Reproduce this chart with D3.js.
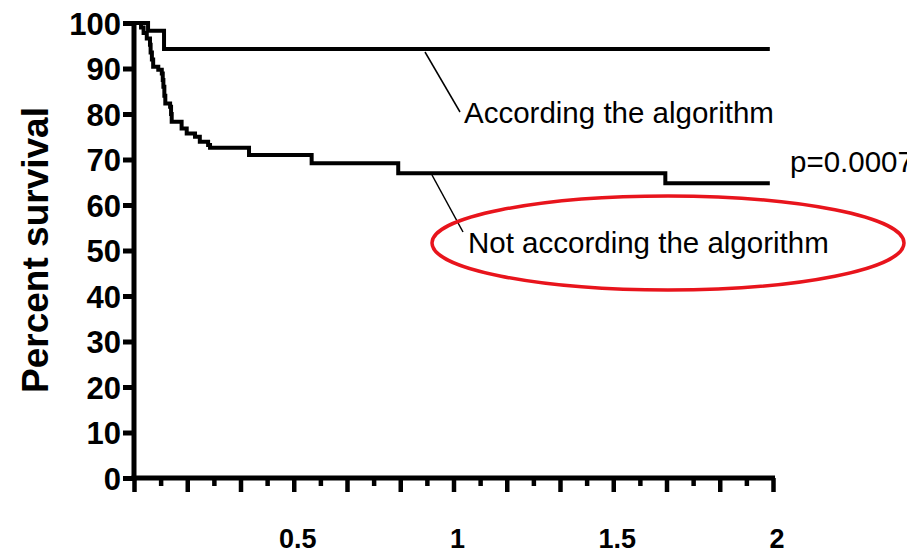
<!DOCTYPE html>
<html lang="en">
<head>
    <meta charset="UTF-8">
    <title>Percent survival</title>
    <style>
        body {
            margin: 0;
            padding: 0;
            background: #fff;
        }

        .tick-label {
            font-family: "Liberation Sans", Arial, sans-serif;
            font-weight: bold;
            fill: #000;
        }

        .note {
            font-family: "Liberation Sans", Arial, sans-serif;
            font-size: 29.5px;
            fill: #000;
        }
    </style>
</head>
<body>
    <script src="https://d3js.org/d3.v7.min.js"></script>
    <script>
        // survival curves (time in years, percent)
        const accordingTimes = [0, 0.044, 0.094, 1.99];
        const accordingValues = [100, 98.3, 94.3, 94.3];

        const notAccordingTimes = [0, 0.022, 0.030, 0.040, 0.050, 0.052, 0.056, 0.060, 0.076, 0.087, 0.090, 0.092,
            0.095, 0.098, 0.113, 0.116, 0.118, 0.149, 0.165, 0.191, 0.206, 0.232, 0.238, 0.360, 0.556, 0.827, 1.663, 1.99];
        const notAccordingValues = [100, 99.0, 97.8, 96.6, 95.2, 93.5, 92.0, 90.4, 89.7, 88.9, 87.5, 86.0,
            84.0, 82.3, 81.6, 80.0, 78.3, 76.8, 75.7, 75.0, 73.9, 73.2, 72.6, 71.0, 69.2, 67.0, 64.8, 64.8];

        const yTicks = [0, 10, 20, 30, 40, 50, 60, 70, 80, 90, 100];
        const xLabelTicks = [0.5, 1, 1.5, 2];

        const width = 907;
        const height = 553;

        const x = d3.scaleLinear().domain([0, 2]).range([134, 773]);
        const y = d3.scaleLinear().domain([0, 100]).range([478, 23]);

        const svg = d3.select("body").append("svg")
            .attr("width", width)
            .attr("height", height);

        // curves
        const line = d3.line()
            .x(d => x(d[0]))
            .y(d => y(d[1]))
            .curve(d3.curveStepAfter);

        const according = accordingTimes.map((t, i) => [t, accordingValues[i]]);
        const notAccording = notAccordingTimes.map((t, i) => [t, notAccordingValues[i]]);

        [according, notAccording].forEach(data => {
            svg.append("path")
                .datum(data)
                .attr("fill", "none")
                .attr("stroke", "#000")
                .attr("stroke-width", 4)
                .attr("d", line);
        });

        // y axis
        const yAxis = svg.append("g")
            .attr("transform", "translate(" + x(0) + ",0)")
            .call(d3.axisLeft(y).tickValues(yTicks).tickSize(11).tickPadding(2).tickFormat(d3.format("d")));
        yAxis.select(".domain").remove();
        yAxis.selectAll(".tick line").attr("stroke-width", 5).attr("stroke", "#000");
        yAxis.selectAll(".tick text")
            .attr("class", "tick-label")
            .style("font-size", "31px")
            .attr("dy", "0.36em");
        yAxis.append("line")
            .attr("x1", 0).attr("x2", 0)
            .attr("y1", y(100) - 2).attr("y2", y(0) + 2.5)
            .attr("stroke", "#000")
            .attr("stroke-width", 5);

        // x axis: major ticks every 1/6, minor in between
        const majorTicks = d3.range(0, 13).map(i => i / 6);
        const minorTicks = d3.range(0, 12).map(i => i / 6 + 1 / 12);

        const xAxis = svg.append("g")
            .attr("transform", "translate(0," + y(0) + ")")
            .call(d3.axisBottom(x).tickValues(majorTicks).tickSize(14).tickFormat(""));
        xAxis.select(".domain").remove();
        xAxis.selectAll(".tick line").attr("stroke-width", 4.5).attr("stroke", "#000");

        const xMinor = svg.append("g")
            .attr("transform", "translate(0," + y(0) + ")")
            .call(d3.axisBottom(x).tickValues(minorTicks).tickSize(8).tickFormat(""));
        xMinor.select(".domain").remove();
        xMinor.selectAll(".tick line").attr("stroke-width", 4.5).attr("stroke", "#000");

        svg.append("line")
            .attr("x1", x(0) - 2.5).attr("x2", x(2) + 2)
            .attr("y1", y(0)).attr("y2", y(0))
            .attr("stroke", "#000")
            .attr("stroke-width", 5);

        svg.selectAll(".x-label")
            .data(xLabelTicks)
            .enter().append("text")
            .attr("class", "tick-label")
            .attr("x", d => x(d) + 4)
            .attr("y", 548)
            .attr("text-anchor", "middle")
            .style("font-size", "27px")
            .text(d => d);

        // y axis title
        svg.append("text")
            .attr("class", "tick-label")
            .attr("transform", "translate(48," + 250 + ") rotate(-90)")
            .attr("text-anchor", "middle")
            .style("font-size", "37px")
            .text("Percent survival");

        // annotations
        svg.append("line")
            .attr("x1", 425).attr("y1", 52)
            .attr("x2", 460).attr("y2", 112)
            .attr("stroke", "#000").attr("stroke-width", 1.5);

        svg.append("text")
            .attr("class", "note")
            .attr("x", 464)
            .attr("y", 123)
            .text("According the algorithm");

        svg.append("line")
            .attr("x1", 432).attr("y1", 175)
            .attr("x2", 463).attr("y2", 232)
            .attr("stroke", "#000").attr("stroke-width", 1.5);

        svg.append("ellipse")
            .attr("cx", 668)
            .attr("cy", 243)
            .attr("rx", 236)
            .attr("ry", 47)
            .attr("fill", "none")
            .attr("stroke", "#e8141c")
            .attr("stroke-width", 3.5);

        svg.append("text")
            .attr("class", "note")
            .attr("x", 468)
            .attr("y", 253)
            .text("Not according the algorithm");

        svg.append("text")
            .attr("class", "note")
            .attr("x", 790)
            .attr("y", 172)
            .text("p=0.0007");
    </script>
</body>
</html>
